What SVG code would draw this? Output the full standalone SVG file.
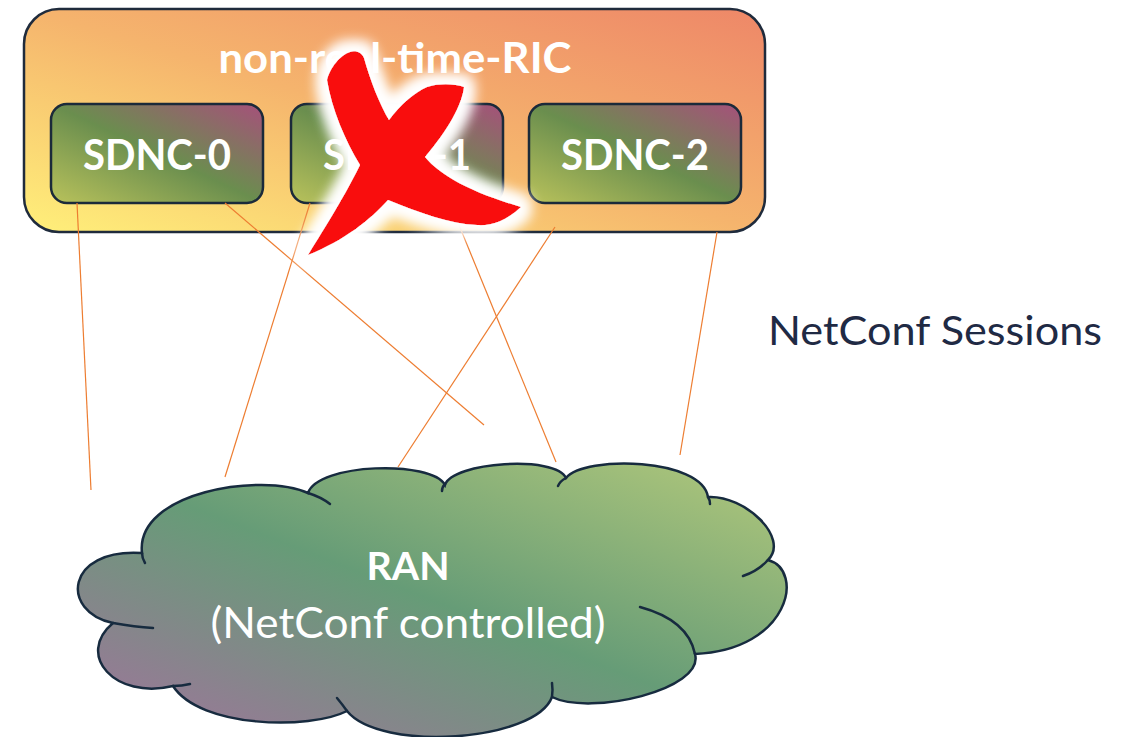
<svg xmlns="http://www.w3.org/2000/svg" width="1125" height="737" viewBox="0 0 1125 737">
  <defs>
    <style>
      .lbl { font-family: Lato, "Liberation Sans", sans-serif; fill: #ffffff; text-anchor: middle; }
      .bold { font-weight: bold; }
      .box { stroke: #1B2A3A; stroke-width: 2.5; }
      .conn { stroke: #ED7D31; stroke-width: 1.2; fill: none; }
      .cloud { stroke: #172B3F; stroke-width: 2.5; }
      .tail { stroke: #172B3F; stroke-width: 2.5; fill: none; stroke-linecap: round; }
    </style>
    <linearGradient id="gRic" x1="0" y1="1" x2="1" y2="0">
      <stop offset="0" stop-color="#FFF07A"/>
      <stop offset="0.5" stop-color="#F5B46D"/>
      <stop offset="1" stop-color="#EE8768"/>
    </linearGradient>
    <linearGradient id="gSdnc" x1="0" y1="1" x2="1" y2="0">
      <stop offset="0" stop-color="#B9C25B"/>
      <stop offset="0.5" stop-color="#6A8E4E"/>
      <stop offset="1" stop-color="#A6507B"/>
    </linearGradient>
    <linearGradient id="gCloud" x1="0" y1="1" x2="1" y2="0">
      <stop offset="0" stop-color="#A2729D"/>
      <stop offset="0.5" stop-color="#669C77"/>
      <stop offset="1" stop-color="#B3C97B"/>
    </linearGradient>
    <filter id="glow" x="-30%" y="-30%" width="160%" height="160%">
      <feMorphology in="SourceAlpha" operator="dilate" radius="8" result="d"/>
      <feGaussianBlur in="d" stdDeviation="7" result="b"/>
      <feFlood flood-color="#ffffff"/>
      <feComposite in2="b" operator="in" result="g"/>
      <feMerge><feMergeNode in="g"/><feMergeNode in="g"/><feMergeNode in="SourceGraphic"/></feMerge>
    </filter>
  </defs>

  <g id="ric">
    <rect x="24" y="9" width="741" height="223" rx="35" fill="url(#gRic)" stroke="#1F2B3C" stroke-width="2.5"/>
    <text class="lbl bold" x="395" y="73" font-size="42" textLength="353" lengthAdjust="spacingAndGlyphs">non-real-time-RIC</text>
  </g>

  <g id="sdnc-0">
    <rect class="box" x="51" y="104" width="212" height="99" rx="16" fill="url(#gSdnc)"/>
    <text class="lbl bold" x="157" y="170" font-size="42" textLength="148" lengthAdjust="spacingAndGlyphs">SDNC-0</text>
  </g>
  <g id="sdnc-1">
    <rect class="box" x="291" y="104" width="212" height="99" rx="16" fill="url(#gSdnc)"/>
    <text class="lbl bold" x="397" y="170" font-size="42" textLength="148" lengthAdjust="spacingAndGlyphs">SDNC-1</text>
  </g>
  <g id="sdnc-2">
    <rect class="box" x="529" y="104" width="212" height="99" rx="16" fill="url(#gSdnc)"/>
    <text class="lbl bold" x="635" y="170" font-size="42" textLength="148" lengthAdjust="spacingAndGlyphs">SDNC-2</text>
  </g>

  <g id="ran">
    <path class="cloud" fill="url(#gCloud)" d="M142,553 C135,492 262,472 308,493 C318,463 432,460 445,485 C452,462 556,455 566,478 C585,455 702,458 708,497 C745,495 790,538 768,560 C805,570 790,650 695,654 C705,690 590,716 552,697 C535,742 380,752 347,711 C310,730 200,728 173,686 C115,700 75,655 113,623 C60,612 65,548 142,553 Z"/>
    <path class="tail" d="M142,553 Q142,558 145,563"/>
    <path class="tail" d="M308,493 Q321,497 330,504"/>
    <path class="tail" d="M445,484 Q442,487 442,491"/>
    <path class="tail" d="M566,478 Q560,481 558,486"/>
    <path class="tail" d="M708,497 Q710,500 710,504"/>
    <path class="tail" d="M768,560 Q758,571 743,576"/>
    <path class="tail" d="M640,607 Q688,620 695,654"/>
    <path class="tail" d="M552,697 Q553,690 552,683"/>
    <path class="tail" d="M347,711 Q342,704 337,698"/>
    <path class="tail" d="M173,686 Q182,686 190,684"/>
    <path class="tail" d="M113,623 Q135,627 153,628"/>
    <text class="lbl bold" x="408" y="580" font-size="39" textLength="83" lengthAdjust="spacingAndGlyphs">RAN</text>
    <text class="lbl" x="408" y="638" font-size="42" textLength="395" lengthAdjust="spacingAndGlyphs">(NetConf controlled)</text>
  </g>

  <g id="connectors">
    <line class="conn" x1="77" y1="203" x2="91" y2="490"/>
    <line class="conn" x1="225" y1="203" x2="484" y2="425"/>
    <line class="conn" x1="310" y1="203" x2="225" y2="477"/>
    <line class="conn" x1="450" y1="203" x2="556" y2="462"/>
    <line class="conn" x1="555" y1="227" x2="398" y2="467"/>
    <line class="conn" x1="717" y1="232" x2="680" y2="455"/>
  </g>

  <g id="cross">
    <path filter="url(#glow)" fill="#F90A0A" d="M327,80 C330,68 340,55 350,52 C356,50 362,53 364,58 C370,80 380,105 389,120 C400,105 415,92 427,87 C440,83 455,84 464,87 C462,105 448,130 425,157 C440,175 470,192 521,207 C505,222 490,226 477,225 C450,224 420,213 388,200 C370,220 345,240 308,255 C320,235 340,205 360,165 C345,140 332,110 327,80 Z"/>
  </g>

  <g id="sessions-label">
    <text x="768" y="345" font-family="Lato, 'Liberation Sans', sans-serif" font-size="40" fill="#1F2A44" textLength="334" lengthAdjust="spacingAndGlyphs">NetConf Sessions</text>
  </g>
</svg>
